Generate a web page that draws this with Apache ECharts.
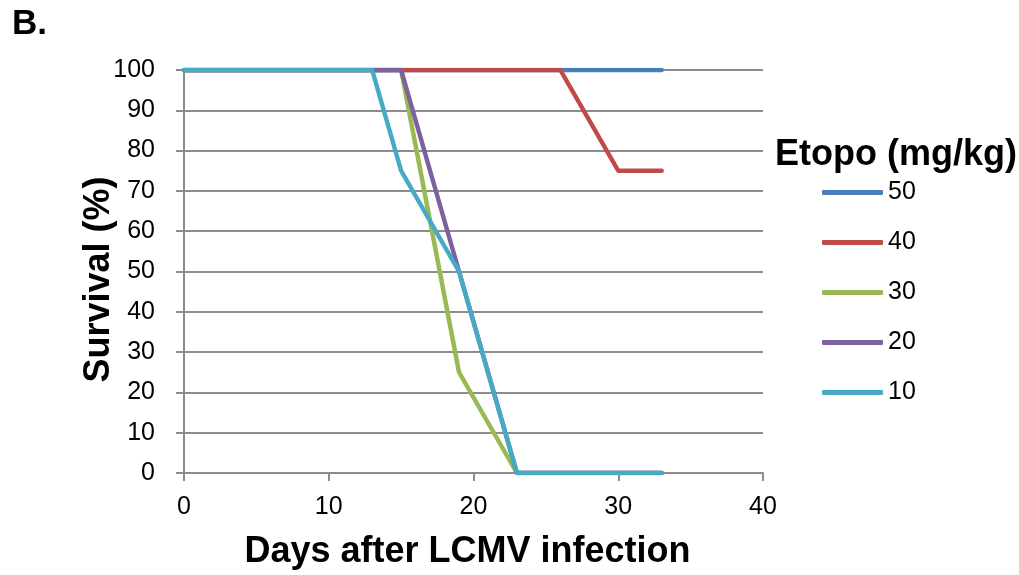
<!DOCTYPE html>
<html>
<head>
<meta charset="utf-8">
<script src="https://cdn.jsdelivr.net/npm/echarts@6/dist/echarts.min.js"></script>
<style>
  html, body { margin: 0; padding: 0; background: #fff; }
  #chart { width: 1019px; height: 575px; }
</style>
</head>
<body>
<div id="chart"></div>
<script>
// doses in legend order, one [day, survival %] list per dose
var doses = ['50', '40', '30', '20', '10'];
var dose50 = [[0, 100], [33, 100]];
var dose40 = [[0, 100], [26, 100], [30, 75], [33, 75]];
var dose30 = [[0, 100], [15, 100], [19, 25], [23, 0], [33, 0]];
var dose20 = [[0, 100], [15, 100], [19, 50], [23, 0], [33, 0]];
var dose10 = [[0, 100], [13, 100], [15, 75], [19, 50], [23, 0], [33, 0]];
var colors = ['#4a7ebb', '#be4b48', '#98b954', '#7d60a0', '#46aac5'];

var font = 'Liberation Sans, Arial, sans-serif';
var allData = [dose50, dose40, dose30, dose20, dose10];

var series = doses.map(function (name, i) {
    return {
        name: name,
        type: 'line',
        data: allData[i],
        showSymbol: false,
        symbol: 'none',
        animation: false,
        lineStyle: {
            color: colors[i],
            width: 4.5,
            cap: 'round',
            join: 'round'
        },
        itemStyle: { color: colors[i] }
    };
});

var option = {
    color: colors,
    textStyle: { fontFamily: font },
    title: [
        {
            text: 'B.',
            left: 7,
            top: 2,
            textStyle: { fontSize: 35, fontWeight: 'bold', color: '#000', fontFamily: font }
        },
        {
            text: 'Etopo (mg/kg)',
            left: 770,
            top: 132,
            textStyle: { fontSize: 36, fontWeight: 'bold', color: '#000', fontFamily: font }
        }
    ],
    legend: {
        orient: 'vertical',
        left: 817,
        top: 175,
        itemWidth: 61,
        itemHeight: 5,
        itemGap: 25,
        icon: 'roundRect',
        data: doses,
        textStyle: { fontSize: 25, color: '#000', padding: [0, 0, 0, 0], lineHeight: 25 }
    },
    grid: {
        left: 184,
        right: 256,
        top: 70,
        bottom: 99
    },
    xAxis: {
        type: 'value',
        min: 0,
        max: 40,
        interval: 10,
        name: 'Days after LCMV infection',
        nameLocation: 'middle',
        nameGap: 61,
        nameMoveOverlap: false,
        nameTextStyle: { fontSize: 36, fontWeight: 'bold', color: '#000', padding: [0, 12, 0, 0] },
        axisLine: { show: true, lineStyle: { color: '#8c8c8c', width: 2 } },
        axisTick: { show: true, length: 8, lineStyle: { color: '#8c8c8c', width: 2 } },
        axisLabel: { fontSize: 25, color: '#000', margin: 22 },
        splitLine: { show: false }
    },
    yAxis: {
        type: 'value',
        min: 0,
        max: 100,
        interval: 10,
        name: 'Survival (%)',
        nameLocation: 'middle',
        nameGap: 67,
        nameMoveOverlap: false,
        nameTextStyle: { fontSize: 36, fontWeight: 'bold', color: '#000', padding: [0, 16, 0, 0] },
        axisLine: { show: true, lineStyle: { color: '#8c8c8c', width: 2 } },
        axisTick: { show: true, length: 8, lineStyle: { color: '#8c8c8c', width: 2 } },
        axisLabel: { fontSize: 25, color: '#000', margin: 29 },
        splitLine: { show: true, lineStyle: { color: '#8c8c8c', width: 2 } }
    },
    series: series
};

var myChart = echarts.init(document.getElementById('chart'));
myChart.setOption(option);
</script>
</body>
</html>
